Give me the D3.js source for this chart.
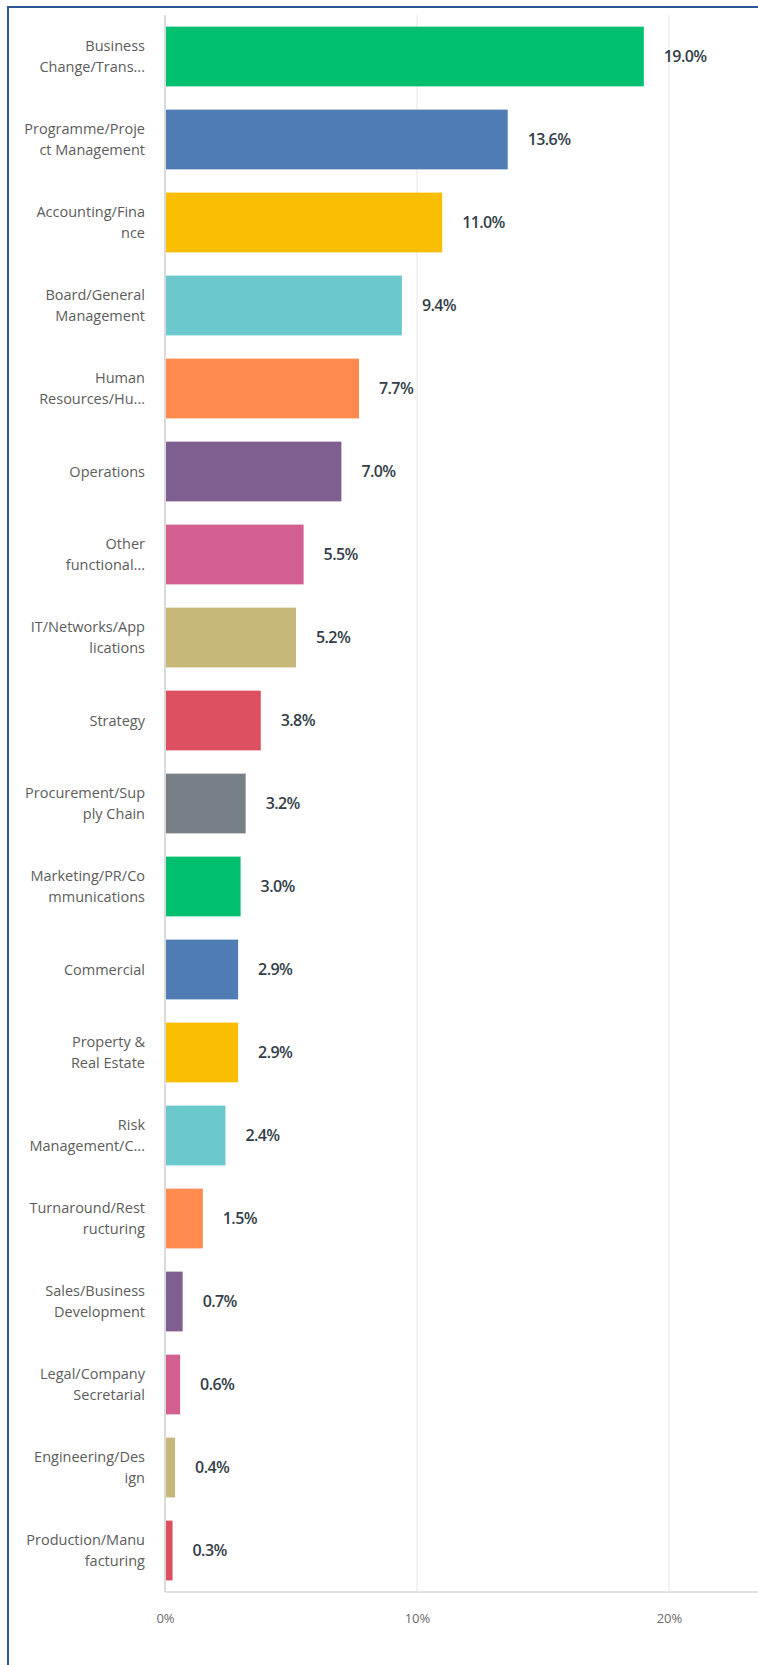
<!DOCTYPE html>
<html>
<head>
<meta charset="utf-8">
<script src="https://cdn.jsdelivr.net/npm/d3@7"></script>
<style>
  body { margin: 0; background: #fff; }
  svg { display: block; }
  .cat { font-family: "Open Sans", sans-serif; font-size: 14.5px; fill: #5c5c5c; }
  .val { font-family: "Open Sans", sans-serif; font-size: 16px; font-weight: 600; fill: #333e48; letter-spacing: -0.6px; }
  .tick text { font-family: "Open Sans", sans-serif; font-size: 13px; fill: #6b6b6b; }
</style>
</head>
<body>
<svg></svg>
<script>
var width = 758;
var height = 1665;

// category labels as shown (two lines where wrapped)
var categories = [
  ["Business", "Change/Trans..."],
  ["Programme/Proje", "ct Management"],
  ["Accounting/Fina", "nce"],
  ["Board/General", "Management"],
  ["Human", "Resources/Hu..."],
  ["Operations"],
  ["Other", "functional..."],
  ["IT/Networks/App", "lications"],
  ["Strategy"],
  ["Procurement/Sup", "ply Chain"],
  ["Marketing/PR/Co", "mmunications"],
  ["Commercial"],
  ["Property &", "Real Estate"],
  ["Risk", "Management/C..."],
  ["Turnaround/Rest", "ructuring"],
  ["Sales/Business", "Development"],
  ["Legal/Company", "Secretarial"],
  ["Engineering/Des", "ign"],
  ["Production/Manu", "facturing"]
];
var values = [19.0, 13.6, 11.0, 9.4, 7.7, 7.0, 5.5, 5.2, 3.8, 3.2, 3.0, 2.9, 2.9, 2.4, 1.5, 0.7, 0.6, 0.4, 0.3];
var colors = ["#00bf6f", "#507cb6", "#f9be00", "#6bc8cd", "#ff8b4f", "#7f5f90", "#d25f90", "#c7b879", "#dc5061", "#768086"];
var xTicks = [0, 10, 20];
var xTickLabels = ["0%", "10%", "20%"];

var svg = d3.select("svg")
    .attr("width", width)
    .attr("height", height);

var plotLeft = 165, plotTop = 15, plotBottom = 1592;

var x = d3.scaleLinear()
    .domain([0, 10])
    .range([plotLeft, 417]);

var y = d3.scaleBand()
    .domain(d3.range(values.length))
    .range([plotTop, plotBottom])
    .paddingInner(0.28)
    .paddingOuter(0.14);

// frame
svg.append("path")
    .attr("d", "M8," + height + "V7H" + width)
    .attr("fill", "none")
    .attr("stroke", "#2e5597")
    .attr("stroke-width", 2);

// gridlines
svg.append("g")
    .selectAll("line")
    .data(xTicks.slice(1))
    .enter()
    .append("line")
    .attr("x1", d => x(d))
    .attr("x2", d => x(d))
    .attr("y1", plotTop)
    .attr("y2", plotBottom)
    .attr("stroke", "#efefef")
    .attr("stroke-width", 1.5);

// bottom axis line
svg.append("line")
    .attr("x1", plotLeft)
    .attr("x2", width)
    .attr("y1", plotBottom)
    .attr("y2", plotBottom)
    .attr("stroke", "#e2e2e2")
    .attr("stroke-width", 2);

// left axis line
svg.append("line")
    .attr("x1", plotLeft)
    .attr("x2", plotLeft)
    .attr("y1", plotTop)
    .attr("y2", plotBottom)
    .attr("stroke", "#dadada")
    .attr("stroke-width", 2);

// tick labels
var xAxis = d3.axisBottom(x)
    .tickValues(xTicks)
    .tickSize(0)
    .tickPadding(0)
    .tickFormat((d, i) => xTickLabels[i]);

var gx = svg.append("g")
    .attr("transform", "translate(0," + 1614 + ")")
    .call(xAxis);
gx.select(".domain").remove();

// bars
svg.append("g")
    .selectAll("rect")
    .data(values)
    .enter()
    .append("rect")
    .attr("x", x(0) + 1)
    .attr("y", (d, i) => y(i))
    .attr("width", d => x(d) - x(0) - 1)
    .attr("height", y.bandwidth())
    .attr("fill", (d, i) => colors[i % colors.length]);

// value labels
svg.append("g")
    .selectAll("text")
    .data(values)
    .enter()
    .append("text")
    .attr("class", "val")
    .attr("x", d => x(d) + 20)
    .attr("y", (d, i) => y(i) + y.bandwidth() / 2)
    .attr("dy", "0.35em")
    .text(d => d.toFixed(1) + "%");

// category labels
var lineH = 21;
var cats = svg.append("g")
    .selectAll("text")
    .data(categories)
    .enter()
    .append("text")
    .attr("class", "cat")
    .attr("text-anchor", "end")
    .attr("x", 145)
    .attr("y", (d, i) => y(i) + y.bandwidth() / 2);

cats.selectAll("tspan")
    .data(d => d.map((t, j) => ({t: t, j: j, n: d.length})))
    .enter()
    .append("tspan")
    .attr("x", 145)
    .attr("dy", (d, k) => k == 0 ? ((-(d.n - 1) * lineH / 2) / 14.5 + 0.35) + "em" : lineH + "px")
    .text(d => d.t);
</script>
</body>
</html>
